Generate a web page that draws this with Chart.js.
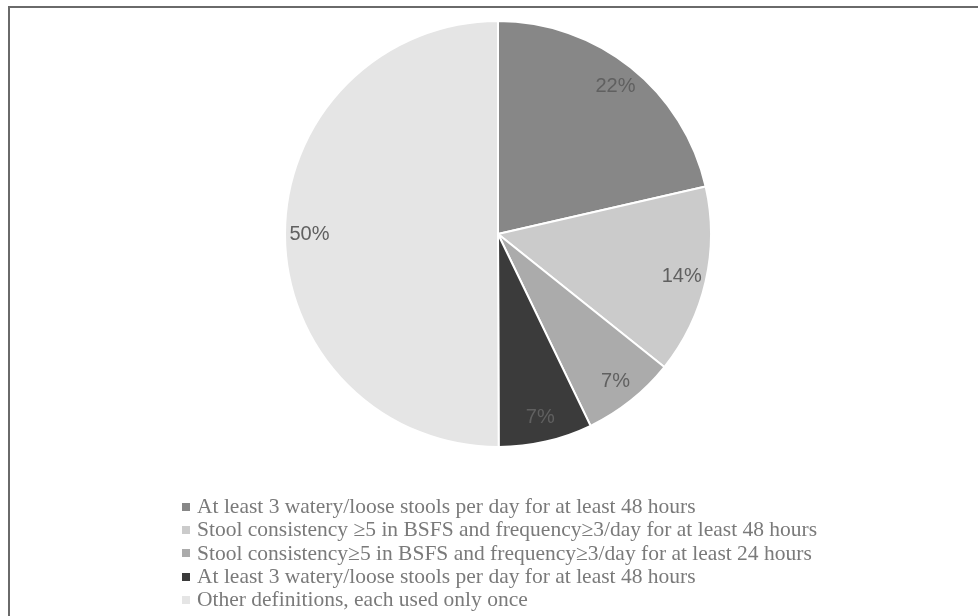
<!DOCTYPE html>
<html>
<head>
<meta charset="utf-8">
<script src="https://cdn.jsdelivr.net/npm/chart.js@4.4.1/dist/chart.umd.min.js"></script>
<style>
  html, body { margin: 0; padding: 0; background: #fff; }
  #wrap { position: relative; width: 978px; height: 616px; overflow: hidden; }
  #frame { position: absolute; left: 8px; top: 6px; right: -10px; bottom: -10px;
           border-top: 2px solid #6a6a6a; border-left: 2px solid #6a6a6a; }
  #c { position: absolute; left: 0; top: 0; }
  #legend { position: absolute; left: 182px; top: 495px; font-family: "Liberation Serif", "Times New Roman", serif;
            font-size: 21.5px; color: #7a7a7a; line-height: 23.3px; }
  #legend .row { white-space: nowrap; display: flex; align-items: center; height: 23.3px; }
  #legend .box { display: inline-block; width: 8px; height: 8px; margin-right: 7px; }
</style>
</head>
<body>
<div id="wrap">
  <div id="frame"></div>
  <canvas id="c" width="978" height="616"></canvas>
  <div id="legend"></div>
</div>
<script>
const categories = [
  "At least 3 watery/loose stools per day for at least 48 hours",
  "Stool consistency \u22655 in BSFS and frequency\u22653/day for at least 48 hours",
  "Stool consistency\u22655 in BSFS and frequency\u22653/day for at least 24 hours",
  "At least 3 watery/loose stools per day for at least 48 hours",
  "Other definitions, each used only once"
];
const shares = [21.4, 14.3, 7.1, 7.1, 50.0];
const pctLabels = ["22%", "14%", "7%", "7%", "50%"];
const sliceColors = ["#878787", "#cbcbcb", "#ababab", "#3b3b3b", "#e5e5e5"];

const labelPlugin = {
  id: 'sliceLabels',
  afterDatasetsDraw(chart) {
    const ctx = chart.ctx;
    const meta = chart.getDatasetMeta(0);
    ctx.save();
    ctx.font = '20px "Liberation Sans", Arial, sans-serif';
    ctx.fillStyle = '#606060';
    ctx.textAlign = 'center';
    ctx.textBaseline = 'middle';
    meta.data.forEach((arc, i) => {
      const p = arc.getProps(['x', 'y', 'startAngle', 'endAngle', 'outerRadius'], true);
      const mid = (p.startAngle + p.endAngle) / 2;
      const r = p.outerRadius * 0.885;
      ctx.fillText(pctLabels[i], p.x + Math.cos(mid) * r, p.y + Math.sin(mid) * r);
    });
    ctx.restore();
  }
};

const chart = new Chart(document.getElementById('c'), {
  type: 'pie',
  data: {
    labels: categories,
    datasets: [{
      data: shares,
      backgroundColor: sliceColors,
      borderColor: '#ffffff',
      borderWidth: 2
    }]
  },
  options: {
    responsive: false,
    animation: false,
    layout: { padding: { top: 20, bottom: 168, left: 284, right: 266 } },
    plugins: {
      legend: { display: false },
      tooltip: { enabled: false }
    }
  },
  plugins: [labelPlugin]
});

const legendEl = document.getElementById('legend');
categories.forEach((name, i) => {
  const row = document.createElement('div');
  row.className = 'row';
  const box = document.createElement('span');
  box.className = 'box';
  box.style.background = sliceColors[i];
  const txt = document.createElement('span');
  txt.textContent = name;
  row.appendChild(box);
  row.appendChild(txt);
  legendEl.appendChild(row);
});
</script>
</body>
</html>
